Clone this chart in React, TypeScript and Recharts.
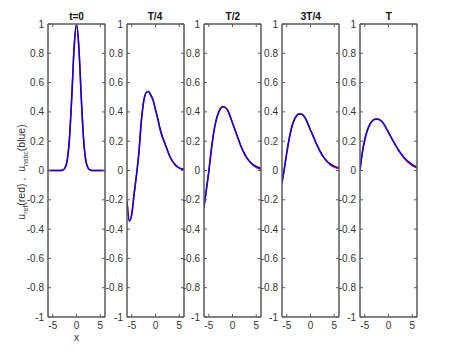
import { LineChart, Line, XAxis, YAxis } from 'recharts';

const xs = [-6, -5.5, -5, -4.5, -4, -3.5, -3, -2.5, -2, -1.5, -1, -0.5, 0, 0.5, 1, 1.5, 2, 2.5, 3, 3.5, 4, 4.5, 5, 5.5, 6];

const titles = ['t=0', 'T/4', 'T/2', '3T/4', 'T'];

// blue = u_nsbc, red = u_ref
const blueT0 = [0, 0, 0, 0, 0, 0, 0.002, 0.013, 0.06, 0.21, 0.5, 0.84, 1, 0.84, 0.5, 0.21, 0.06, 0.013, 0.002, 0, 0, 0, 0, 0, 0];
const redT0 = [0, 0, 0, 0, 0, 0, 0.002, 0.013, 0.06, 0.21, 0.5, 0.84, 1, 0.84, 0.5, 0.21, 0.06, 0.013, 0.002, 0, 0, 0, 0, 0, 0];

const blueT1 = [-0.21, -0.345, -0.3, -0.16, -0.03, 0.12, 0.33, 0.47, 0.53, 0.54, 0.515, 0.48, 0.415, 0.35, 0.278, 0.225, 0.183, 0.14, 0.097, 0.068, 0.045, 0.028, 0.018, 0.012, 0.008];
const redT1 = [-0.21, -0.345, -0.3, -0.16, -0.03, 0.12, 0.33, 0.47, 0.53, 0.54, 0.515, 0.48, 0.415, 0.35, 0.278, 0.225, 0.183, 0.14, 0.097, 0.068, 0.045, 0.028, 0.017, 0.01, 0.005];

const blueT2 = [-0.25, -0.13, -0.01, 0.13, 0.25, 0.335, 0.39, 0.425, 0.436, 0.43, 0.41, 0.37, 0.325, 0.28, 0.235, 0.19, 0.15, 0.115, 0.088, 0.066, 0.049, 0.036, 0.027, 0.02, 0.014];
const redT2 = [-0.25, -0.13, -0.01, 0.13, 0.25, 0.335, 0.39, 0.425, 0.436, 0.43, 0.41, 0.37, 0.325, 0.28, 0.235, 0.19, 0.15, 0.115, 0.087, 0.064, 0.046, 0.032, 0.022, 0.014, 0.008];

const blueT3 = [-0.08, 0.015, 0.12, 0.215, 0.29, 0.34, 0.37, 0.386, 0.385, 0.375, 0.35, 0.315, 0.275, 0.24, 0.2, 0.165, 0.132, 0.105, 0.082, 0.063, 0.049, 0.038, 0.03, 0.023, 0.018];
const redT3 = [-0.09, 0.012, 0.12, 0.215, 0.29, 0.34, 0.37, 0.386, 0.385, 0.375, 0.35, 0.315, 0.275, 0.24, 0.2, 0.165, 0.131, 0.103, 0.079, 0.059, 0.044, 0.032, 0.023, 0.016, 0.011];

const blueT4 = [0, 0.125, 0.21, 0.27, 0.31, 0.335, 0.348, 0.351, 0.348, 0.338, 0.318, 0.29, 0.26, 0.23, 0.2, 0.172, 0.145, 0.122, 0.1, 0.082, 0.066, 0.052, 0.04, 0.031, 0.024];
const redT4 = [0, 0.125, 0.21, 0.27, 0.31, 0.335, 0.348, 0.351, 0.348, 0.338, 0.318, 0.29, 0.26, 0.23, 0.2, 0.171, 0.143, 0.119, 0.096, 0.077, 0.06, 0.046, 0.034, 0.025, 0.017];

const blues = [blueT0, blueT1, blueT2, blueT3, blueT4];
const reds = [redT0, redT1, redT2, redT3, redT4];

const yTicks = [-1, -0.8, -0.6, -0.4, -0.2, 0, 0.2, 0.4, 0.6, 0.8, 1];
const xTicks = [-5, 0, 5];

// layout
const panelLefts = [48, 126.5, 204.3, 282.3, 360.3];
const PW = 57;
const LABEL_W = 30;
const PL = LABEL_W;
const PR = LABEL_W + PW;
const PT = 24;
const PB = 317;
const AXIS = '#5a5a5a';
const TXT = '#333';
const FONT = '"Liberation Sans", Arial, Helvetica, sans-serif';

const YTick = (props: any) => {
  const { y, payload } = props;
  return (
    <g>
      <text x={PL - 4} y={y} dy={3.5} textAnchor="end" fontSize={10} fill={TXT} fontFamily={FONT}>
        {String(payload.value)}
      </text>
      <line x1={PL} x2={PL + 3} y1={y} y2={y} stroke={AXIS} strokeWidth={1} />
      <line x1={PR} x2={PR - 3} y1={y} y2={y} stroke={AXIS} strokeWidth={1} />
    </g>
  );
};

const XTick = (props: any) => {
  const { x, payload } = props;
  return (
    <g>
      <text x={x} y={PB + 12} textAnchor="middle" fontSize={10} fill={TXT} fontFamily={FONT}>
        {String(payload.value)}
      </text>
      <line x1={x} x2={x} y1={PB} y2={PB - 3} stroke={AXIS} strokeWidth={1} />
      <line x1={x} x2={x} y1={PT} y2={PT + 3} stroke={AXIS} strokeWidth={1} />
    </g>
  );
};

function Panel({ i }: { i: number }) {
  const data = xs.map((x, k) => ({ x, red: reds[i][k], blue: blues[i][k] }));
  return (
    <div style={{ position: 'absolute', left: panelLefts[i] - LABEL_W, top: 0 }}>
      <div
        style={{
          position: 'absolute',
          left: LABEL_W,
          width: PW,
          top: 11,
          textAlign: 'center',
          fontSize: 10,
          fontWeight: 'bold',
          lineHeight: '11px',
          color: '#111',
          fontFamily: FONT,
        }}
      >
        {titles[i]}
      </div>
      <LineChart width={LABEL_W + PW + 3} height={357} data={data} margin={{ top: PT - 1, right: 2, bottom: 0, left: 0 }}>
        <XAxis
          dataKey="x"
          type="number"
          domain={[-6, 6]}
          ticks={xTicks}
          allowDataOverflow
          height={40}
          tickLine={false}
          axisLine={{ stroke: AXIS, strokeWidth: 1.5 }}
          tick={<XTick />}
        />
        <XAxis
          xAxisId="top"
          orientation="top"
          dataKey="x"
          type="number"
          domain={[-6, 6]}
          height={1}
          tick={false}
          tickLine={false}
          axisLine={{ stroke: AXIS, strokeWidth: 1.5 }}
        />
        <YAxis
          type="number"
          domain={[-1, 1]}
          ticks={yTicks}
          allowDataOverflow
          width={LABEL_W}
          tickLine={false}
          axisLine={{ stroke: AXIS, strokeWidth: 1.5 }}
          tick={<YTick />}
        />
        <YAxis
          yAxisId="right"
          orientation="right"
          type="number"
          domain={[-1, 1]}
          width={1}
          tick={false}
          tickLine={false}
          axisLine={{ stroke: AXIS, strokeWidth: 1.5 }}
        />
        <Line type="monotone" dataKey="red" stroke="#ff0000" strokeWidth={1.5} dot={false} isAnimationActive={false} />
        <Line type="monotone" dataKey="blue" stroke="#0000ff" strokeWidth={1.5} dot={false} isAnimationActive={false} />
      </LineChart>
    </div>
  );
}

export default function App() {
  return (
    <div style={{ position: 'absolute', left: 0, top: 0, width: 451, height: 357, background: '#fff', fontFamily: FONT }}>
      {titles.map((_, i) => (
        <Panel key={i} i={i} />
      ))}
      <div
        style={{
          position: 'absolute',
          left: panelLefts[0],
          width: PW,
          top: 332,
          textAlign: 'center',
          fontSize: 10,
          color: TXT,
        }}
      >
        x
      </div>
      <div
        style={{
          position: 'absolute',
          left: 21 - 100,
          top: 172 - 7,
          width: 200,
          height: 14,
          lineHeight: '14px',
          textAlign: 'center',
          fontSize: 10.5,
          color: TXT,
          transform: 'rotate(-90deg)',
          transformOrigin: 'center',
          whiteSpace: 'nowrap',
        }}
      >
        u<sub style={{ fontSize: 7 }}>ref</sub>(red) ,&nbsp; u<sub style={{ fontSize: 7 }}>nsbc</sub>(blue)
      </div>
    </div>
  );
}
